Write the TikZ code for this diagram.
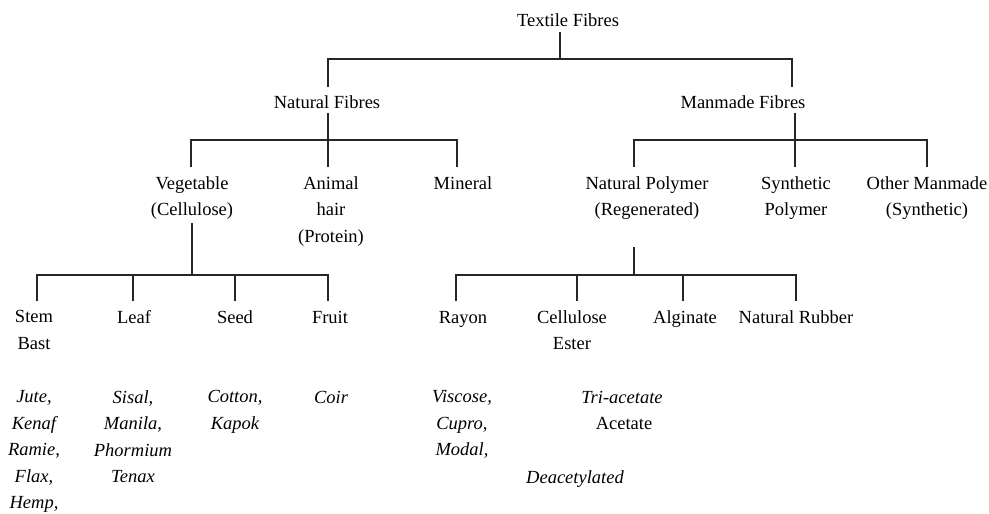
\documentclass[tikz,border=0pt]{standalone}
\usepackage{fontspec}
\setmainfont{Liberation Serif}
\usetikzlibrary{positioning, calc}
\tikzstyle{cat} = [inner sep=0pt, anchor=base, align=center, font=\fontsize{18.5}{26.5}\selectfont]
\tikzstyle{catm} = [cat, anchor=north]
\tikzstyle{kind} = [cat, font=\fontsize{18.5}{26.5}\selectfont\itshape]
\tikzstyle{kindm} = [kind, anchor=north]
\tikzstyle{link} = [line width=1.4pt, draw=black!85]

\begin{document}
\begin{tikzpicture}[x=1pt, y=-1pt]
    \useasboundingbox (0,0) rectangle (989,514);
    % Levels 0 and 1
    \node (tf) [cat] at (568,26) {Textile Fibres};
    \node (nat) [cat] at (327,108) {Natural Fibres};
    \node (man) [cat] at (743,108) {Manmade Fibres};

    % Level 2
    \node (veg) [catm] at (192,176.4) {Vegetable\\(Cellulose)};
    \node (ani) [catm] at (331,176.4) {Animal\\hair\\(Protein)};
    \node (min) [cat] at (463,189) {Mineral};
    \node (npol) [catm] at (647,176.4) {Natural Polymer\\(Regenerated)};
    \node (spol) [catm] at (796,176.4) {Synthetic\\Polymer};
    \node (oman) [catm] at (927,176.4) {Other Manmade\\(Synthetic)};

    % Level 3
    \node (stem) [catm] at (34,310.4) {Stem\\Bast};
    \node (leaf) [cat] at (134,323) {Leaf};
    \node (seed) [cat] at (235,323) {Seed};
    \node (fruit) [cat] at (330,323) {Fruit};
    \node (rayon) [cat] at (463,323) {Rayon};
    \node (cest) [catm] at (572,310.4) {Cellulose\\Ester};
    \node (alg) [cat] at (685,323) {Alginate};
    \node (rub) [cat] at (796,323) {Natural Rubber};

    % Examples
    \node (ex-stem) [kindm] at (34,390.4) {Jute,\\Kenaf\\Ramie,\\Flax,\\Hemp,};
    \node (ex-leaf) [kindm] at (133,390.4) {Sisal,\\Manila,\\Phormium\\Tenax};
    \node (ex-seed) [kindm] at (235,390.4) {Cotton,\\Kapok};
    \node (ex-fruit) [kind] at (331,403) {Coir};
    \node (ex-rayon) [kindm] at (462,390.4) {Viscose,\\Cupro,\\Modal,};
    \node (ex-tri) [kind] at (622,403) {Tri-acetate};
    \node (ex-ace) [cat] at (624,429) {Acetate};
    \node (ex-deac) [kind] at (575,483) {Deacetylated};

    % Line ends
    \coordinate (tf-d) at (560,32);
    \coordinate (j0) at (560,59);
    \coordinate (nat-u) at (328,87);
    \coordinate (man-u) at (792,87);

    \coordinate (nat-d) at (328,113);
    \coordinate (j1) at (328,140);
    \coordinate (veg-u) at (191,167);
    \coordinate (ani-u) at (328,167);
    \coordinate (min-u) at (457,167);

    \coordinate (man-d) at (795,113);
    \coordinate (j2) at (795,140);
    \coordinate (npol-u) at (634,167);
    \coordinate (spol-u) at (795,167);
    \coordinate (oman-u) at (927,167);

    \coordinate (veg-d) at (192,223);
    \coordinate (j3) at (192,275);
    \coordinate (stem-u) at (37,301);
    \coordinate (leaf-u) at (133,301);
    \coordinate (seed-u) at (235,301);
    \coordinate (fruit-u) at (328,301);

    \coordinate (npol-d) at (634,247);
    \coordinate (j4) at (634,275);
    \coordinate (rayon-u) at (456,301);
    \coordinate (cest-u) at (577,301);
    \coordinate (alg-u) at (683,301);
    \coordinate (rub-u) at (796,301);

    % Connectors
    \draw [link] (tf-d) -- (j0);
    \draw [link] (nat-u) |- (j0) -| (man-u);

    \draw [link] (nat-d) -- (ani-u);
    \draw [link] (veg-u) |- (j1) -| (min-u);

    \draw [link] (man-d) -- (spol-u);
    \draw [link] (npol-u) |- (j2) -| (oman-u);

    \draw [link] (veg-d) -- (j3);
    \draw [link] (stem-u) |- (j3) -| (fruit-u);
    \draw [link] (leaf-u) -- (leaf-u |- j3);
    \draw [link] (seed-u) -- (seed-u |- j3);

    \draw [link] (npol-d) -- (j4);
    \draw [link] (rayon-u) |- (j4) -| (rub-u);
    \draw [link] (cest-u) -- (cest-u |- j4);
    \draw [link] (alg-u) -- (alg-u |- j4);
\end{tikzpicture}
\end{document}
